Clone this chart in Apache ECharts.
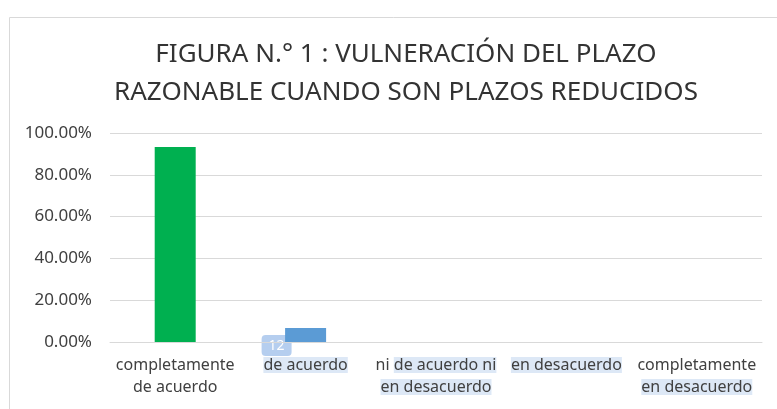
<!DOCTYPE html>
<html>
<head>
<meta charset="utf-8">
<script src="https://cdn.jsdelivr.net/npm/echarts@6/dist/echarts.min.js"></script>
<style>
  html, body { margin: 0; padding: 0; background: #fff; }
  #chart { width: 777px; height: 409px; }
</style>
</head>
<body>
<div id="chart"></div>
<script>
// Data
const categories = [
    'completamente de acuerdo',
    'de acuerdo',
    'ni de acuerdo ni en desacuerdo',
    'en desacuerdo',
    'completamente en desacuerdo'
];
const values = [93.33, 6.67, 0, 0, 0];
const barColors = ['#00b050', '#5b9bd5', '#5b9bd5', '#5b9bd5', '#5b9bd5'];
const yTicks = [0, 20, 40, 60, 80, 100];

// label text as it sits in the picture (with the selection highlight bits)
const labelLines = [
    '{p|completamente}\n{p|de acuerdo}',
    '{h|de acuerdo}',
    '{p|ni }{h|de acuerdo ni}\n{h|en desacuerdo}',
    '{h|en desacuerdo}',
    '{p|completamente}\n{h|en desacuerdo}'
];

const font = "'Noto Sans', sans-serif";
const frame = {
    type: 'rect', left: 7, top: 15, silent: true,
    shape: { width: 800, height: 420 },
    style: { fill: 'none', stroke: '#d9d9d9', lineWidth: 1 }
};

const chart = echarts.init(document.getElementById('chart'));
chart.setOption({
    animation: false,
    title: {
        text: 'FIGURA N.° 1 : VULNERACIÓN DEL PLAZO\nRAZONABLE CUANDO SON PLAZOS REDUCIDOS',
        left: 401,
        textAlign: 'center',
        top: 31,
        textStyle: { fontFamily: font, fontSize: 26, fontWeight: 'normal', color: '#333', lineHeight: 38 }
    },
    graphic: [frame],
    grid: { left: 110, right: 15, top: 133, bottom: 67 },
    xAxis: {
        type: 'category',
        data: categories,
        axisTick: { show: false },
        axisLine: { lineStyle: { color: '#d9d9d9' } },
        axisLabel: {
            interval: 0,
            margin: 12,
            formatter: function (v, i) { return labelLines[i]; },
            rich: {
                p: { fontFamily: font, fontSize: 16, color: '#404040', lineHeight: 22 },
                h: { fontFamily: font, fontSize: 16, color: '#404040', lineHeight: 22, backgroundColor: '#dde8f6' }
            }
        }
    },
    yAxis: {
        type: 'value',
        min: 0, max: 100, interval: 20,
        axisLabel: {
            fontFamily: font, fontSize: 17, color: '#404040', margin: 18,
            formatter: function (v) { return yTicks.includes(v) ? v.toFixed(2) + '%' : ''; }
        },
        splitLine: { lineStyle: { color: '#d9d9d9' } }
    },
    series: [{
        type: 'bar',
        data: values.map((v, i) => ({ value: v, itemStyle: { color: barColors[i] } })),
        barWidth: 41
    }]
});

// the little "12" selection badge near the second category
const p = chart.convertToPixel({ gridIndex: 0 }, [1, 0]);
chart.setOption({
    graphic: [frame, {
        type: 'group', x: p[0] - 44, y: p[1] - 7, silent: true,
        children: [{
            type: 'rect', shape: { width: 30, height: 21, r: 4 },
            style: { fill: 'rgba(120,165,225,0.55)' }
        }, {
            type: 'text', x: 15, y: 11,
            style: { text: '12', fill: '#fff', font: "14px 'Noto Sans'", align: 'center', verticalAlign: 'middle' }
        }]
    }]
});
</script>
</body>
</html>
